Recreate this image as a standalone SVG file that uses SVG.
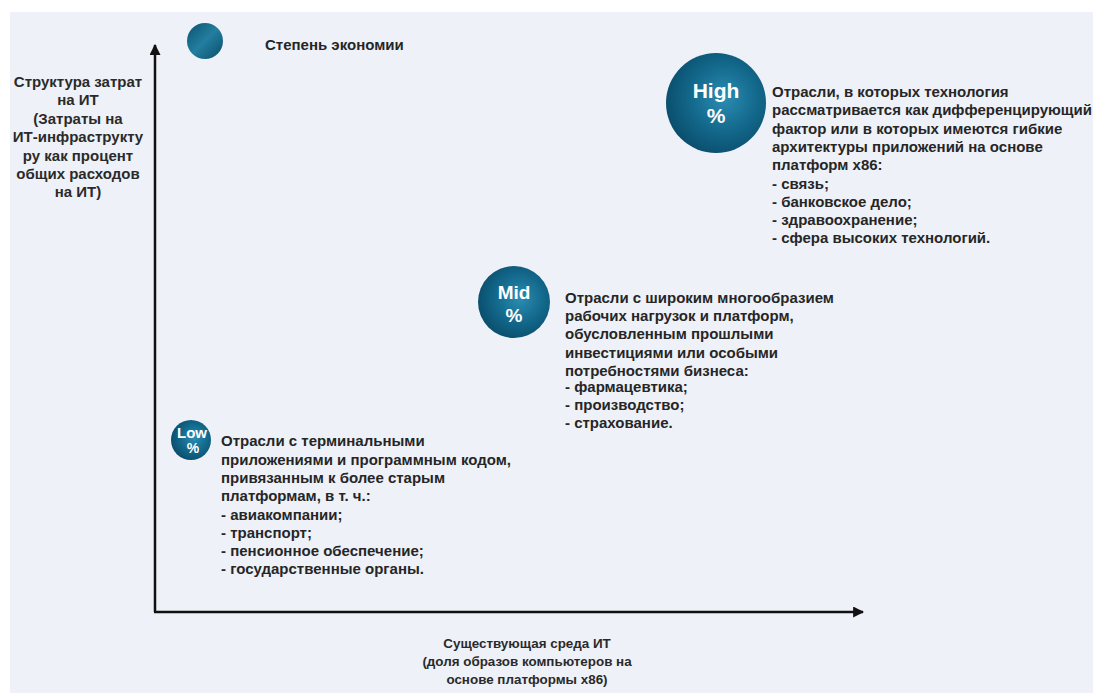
<svg xmlns="http://www.w3.org/2000/svg" width="1093" height="693" viewBox="0 0 1093 693">
<defs>
<radialGradient id="ball" cx="0.58" cy="0.45" r="0.6">
<stop offset="0" stop-color="#2b8db2"/>
<stop offset="0.55" stop-color="#13698c"/>
<stop offset="1" stop-color="#0a4d6c"/>
</radialGradient>
<linearGradient id="ballL" x1="0" y1="0" x2="1" y2="1">
<stop offset="0" stop-color="#0b5272"/>
<stop offset="0.5" stop-color="#237e9f"/>
<stop offset="1" stop-color="#0a4c6a"/>
</linearGradient>
<marker id="arr" viewBox="0 0 10 10" refX="9" refY="5" markerWidth="4.4" markerHeight="4.4" orient="auto" markerUnits="strokeWidth">
<path d="M0,0 L10,5 L0,10 Z" fill="#111"/>
</marker>
<style>
text{font-family:"Liberation Sans",Arial,sans-serif;}
.d{font-size:15px;font-weight:bold;fill:#262626;}
.ax{font-size:15px;font-weight:bold;fill:#2a2a2a;text-anchor:middle;}
.xl{font-size:13.4px;fill:#2a2a2a;text-anchor:middle;font-weight:bold;}
.bl{fill:#ffffff;font-weight:bold;text-anchor:middle;}
</style>
</defs>
<rect x="0" y="0" width="1093" height="693" fill="#ffffff"/>
<rect x="10" y="12" width="1083" height="681" fill="#eef1f8"/>

<g id="connectors">
<line x1="155" y1="612" x2="155" y2="45" stroke="#111" stroke-width="2.5" marker-end="url(#arr)"/>
<line x1="154" y1="612" x2="863" y2="612" stroke="#111" stroke-width="2.5" marker-end="url(#arr)"/>
</g>

<g id="y-label">
<text class="ax" x="78" y="87">Структура затрат</text>
<text class="ax" x="78" y="105">на ИТ</text>
<text class="ax" x="78" y="124">(Затраты на</text>
<text class="ax" x="78" y="142">ИТ-инфраструкту</text>
<text class="ax" x="78" y="161">ру как процент</text>
<text class="ax" x="78" y="179">общих расходов</text>
<text class="ax" x="78" y="197">на ИТ)</text>
</g>

<g id="x-label">
<text class="xl" x="527" y="648">Существующая среда ИТ</text>
<text class="xl" x="527" y="666">(доля образов компьютеров на</text>
<text class="xl" x="527" y="684">основе платформы x86)</text>
</g>

<g id="legend">
<circle cx="205" cy="41" r="18" fill="url(#ballL)"/>
<text class="d" x="265" y="50">Степень экономии</text>
</g>

<g id="high">
<circle cx="716" cy="103" r="50" fill="url(#ball)"/>
<text class="bl" x="716" y="98" font-size="21">High</text>
<text class="bl" x="716" y="123" font-size="21">%</text>
<text class="d" x="772" y="97">Отрасли, в которых технология</text>
<text class="d" x="772" y="115">рассматривается как дифференцирующий</text>
<text class="d" x="772" y="134">фактор или в которых имеются гибкие</text>
<text class="d" x="772" y="152">архитектуры приложений на основе</text>
<text class="d" x="772" y="170">платформ x86:</text>
<text class="d" x="772" y="189">- связь;</text>
<text class="d" x="772" y="207">- банковское дело;</text>
<text class="d" x="772" y="225">- здравоохранение;</text>
<text class="d" x="772" y="243">- сфера высоких технологий.</text>
</g>

<g id="mid">
<circle cx="514" cy="302" r="36" fill="url(#ball)"/>
<text class="bl" x="514" y="299" font-size="19">Mid</text>
<text class="bl" x="514" y="322" font-size="19">%</text>
<text class="d" x="565" y="303">Отрасли с широким многообразием</text>
<text class="d" x="565" y="321">рабочих нагрузок и платформ,</text>
<text class="d" x="565" y="339">обусловленным прошлыми</text>
<text class="d" x="565" y="358">инвестициями или особыми</text>
<text class="d" x="565" y="376">потребностями бизнеса:</text>
<text class="d" x="565" y="392">- фармацевтика;</text>
<text class="d" x="565" y="410">- производство;</text>
<text class="d" x="565" y="428">- страхование.</text>
</g>

<g id="low">
<circle cx="191" cy="440" r="20" fill="url(#ball)"/>
<text class="bl" x="192" y="438" font-size="15">Low</text>
<text class="bl" x="193" y="453" font-size="14">%</text>
<text class="d" x="221" y="446">Отрасли с терминальными</text>
<text class="d" x="221" y="465">приложениями и программным кодом,</text>
<text class="d" x="221" y="483">привязанным к более старым</text>
<text class="d" x="221" y="501">платформам, в т. ч.:</text>
<text class="d" x="221" y="520">- авиакомпании;</text>
<text class="d" x="221" y="538">- транспорт;</text>
<text class="d" x="221" y="556">- пенсионное обеспечение;</text>
<text class="d" x="221" y="574">- государственные органы.</text>
</g>
</svg>
